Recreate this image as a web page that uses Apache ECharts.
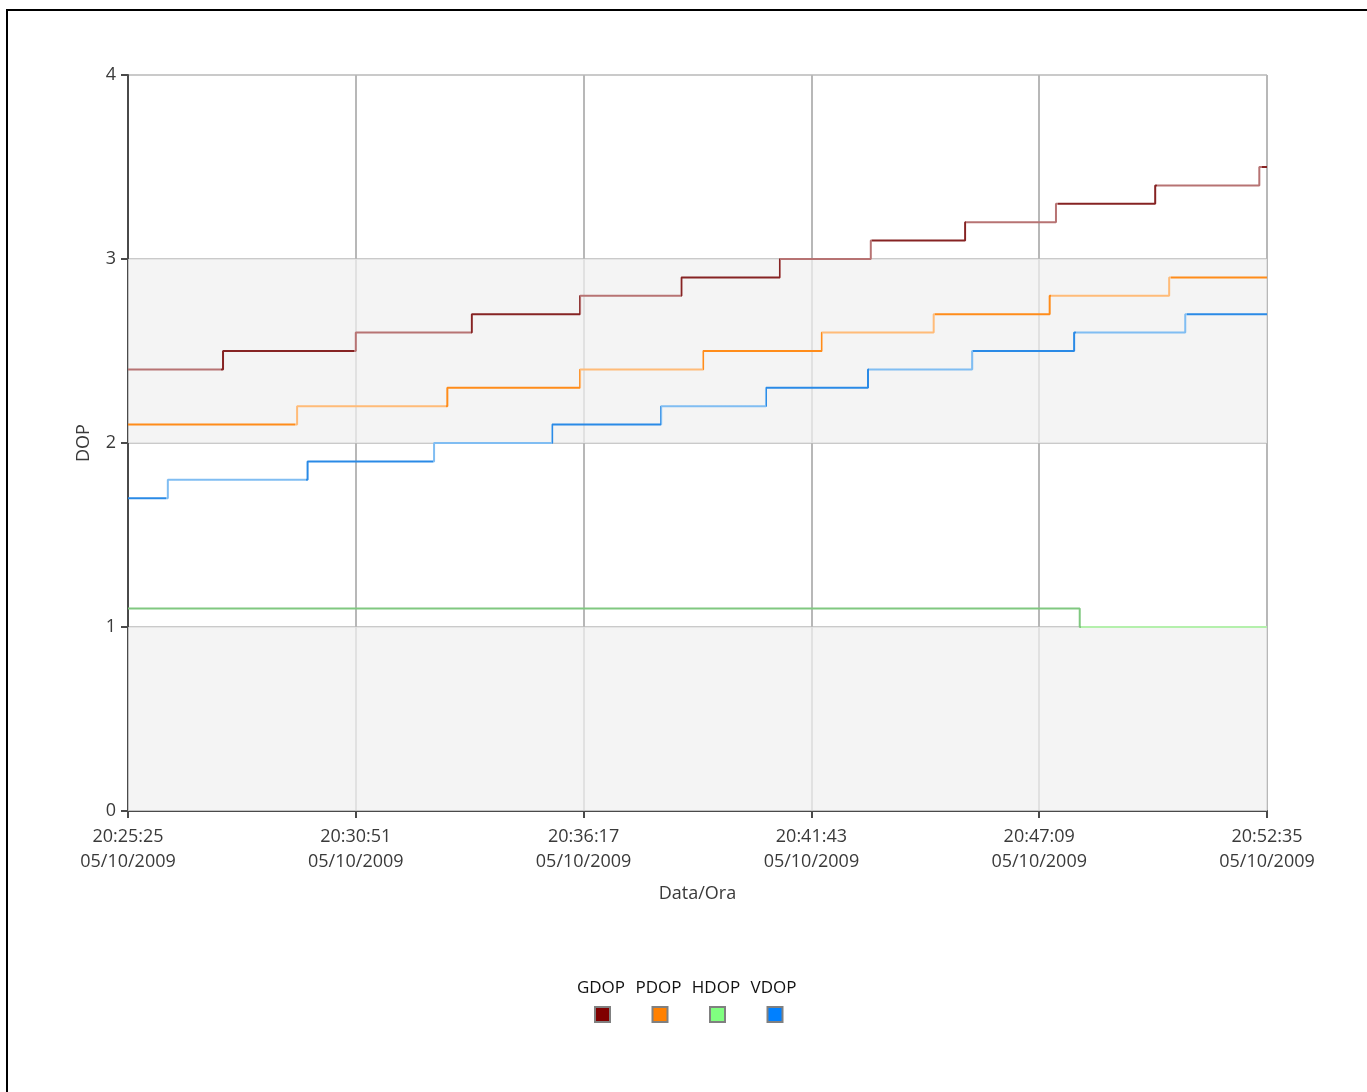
<!DOCTYPE html>
<html>
<head>
<meta charset="utf-8">
<script src="https://cdn.jsdelivr.net/npm/echarts@6/dist/echarts.min.js"></script>
<style>
    html, body { margin: 0; padding: 0; background: #fff; }
    #chart { width: 1367px; height: 1092px; }
</style>
</head>
<body>
<div id="chart"></div>
<script>
// x values are seconds elapsed since 20:25:25
const xTickLabels = ['20:25:25', '20:30:51', '20:36:17', '20:41:43', '20:47:09', '20:52:35']
const dateLabel = '05/10/2009'
const xEnd = 1630
const tickStep = 326

const seriesNames = ['GDOP', 'PDOP', 'HDOP', 'VDOP']

// time (s) at which each level starts, and the level
const gdopTimes = [0, 136, 326, 492, 647, 792, 933, 1063, 1198, 1328, 1470, 1619]
const gdopValues = [2.4, 2.5, 2.6, 2.7, 2.8, 2.9, 3.0, 3.1, 3.2, 3.3, 3.4, 3.5]

const pdopTimes = [0, 242, 457, 647, 823, 993, 1153, 1319, 1490]
const pdopValues = [2.1, 2.2, 2.3, 2.4, 2.5, 2.6, 2.7, 2.8, 2.9]

const hdopTimes = [0, 1362]
const hdopValues = [1.1, 1.0]

const vdopTimes = [0, 57, 257, 438, 607, 763, 913, 1059, 1208, 1354, 1513]
const vdopValues = [1.7, 1.8, 1.9, 2.0, 2.1, 2.2, 2.3, 2.4, 2.5, 2.6, 2.7]

const fontFamily = '"Open Sans", "Noto Sans", sans-serif'
const textColor = '#3a3a3a'

function stepData(times, values) {
    let d = times.map((t, i) => [t, values[i]])
    d.push([xEnd, values[values.length - 1]])
    return d
}

// alternating dark / light segments like the original renderer
function segGradient(times, colA, colB) {
    let stops = []
    times.forEach((t, i) => {
        let next = i < times.length - 1 ? times[i + 1] : xEnd
        let c = i % 2 === 0 ? colA : colB
        stops.push({ offset: t / xEnd, color: c })
        stops.push({ offset: next / xEnd, color: c })
    })
    return new echarts.graphic.LinearGradient(0, 0, 1, 0, stops)
}

function makeSeries(name, times, values, legendColor, colA, colB, extra) {
    return Object.assign({
        name: name,
        type: 'line',
        step: 'end',
        showSymbol: false,
        symbol: 'none',
        data: stepData(times, values),
        itemStyle: { color: legendColor },
        lineStyle: { width: 2, color: segGradient(times, colA, colB) },
        emphasis: { disabled: true }
    }, extra || {})
}

let chart = echarts.init(document.getElementById('chart'))

let legends = seriesNames.map((n, i) => ({
    data: [n],
    left: 594 + i * 57.5,
    top: 1006,
    padding: 0,
    icon: 'rect',
    itemWidth: 15,
    itemHeight: 15,
    itemStyle: { borderColor: '#808080', borderWidth: 2 },
    formatter: () => ''
}))

let graphics = [{
    type: 'polyline',
    shape: { points: [[7, 1092], [7, 10], [1367, 10]] },
    style: { stroke: '#000', lineWidth: 2, fill: null },
    silent: true
}]
seriesNames.forEach((n, i) => {
    graphics.push({
        type: 'text',
        x: 601 + i * 57.5,
        y: 988,
        style: {
            text: n,
            fill: '#111',
            font: '17px ' + fontFamily,
            textAlign: 'center',
            textVerticalAlign: 'middle'
        }
    })
})

let option = {
    animation: false,
    grid: {
        left: 128,
        right: 100,
        top: 75,
        bottom: 281
    },
    legend: legends,
    graphic: graphics,
    xAxis: {
        type: 'value',
        min: 0,
        max: xEnd,
        interval: tickStep,
        name: 'Data/Ora',
        nameLocation: 'middle',
        nameGap: 74,
        nameTextStyle: { color: textColor, fontSize: 18, fontFamily: fontFamily },
        axisLine: { lineStyle: { color: '#4a4a4a', width: 2 } },
        axisTick: { show: true, length: 7, lineStyle: { color: '#4a4a4a', width: 2 } },
        axisLabel: {
            color: textColor,
            fontSize: 18,
            fontFamily: fontFamily,
            lineHeight: 25,
            margin: 13,
            formatter: v => xTickLabels[Math.round(v / tickStep)] + '\n' + dateLabel
        },
        splitLine: { show: true, lineStyle: { color: '#b8b8b8', width: 2 } }
    },
    yAxis: {
        type: 'value',
        min: 0,
        max: 4,
        interval: 1,
        name: 'DOP',
        nameLocation: 'middle',
        nameGap: 35,
        nameTextStyle: { color: textColor, fontSize: 18, fontFamily: fontFamily },
        axisLine: { show: true, lineStyle: { color: '#4a4a4a', width: 2 } },
        axisTick: { show: true, length: 7, lineStyle: { color: '#4a4a4a', width: 2 } },
        axisLabel: { color: textColor, fontSize: 18, fontFamily: fontFamily, margin: 12 },
        splitLine: { show: true, lineStyle: { color: '#b8b8b8', width: 1.5 } }
    },
    series: [
        makeSeries('GDOP', gdopTimes, gdopValues, '#800000', '#b77373', '#862323', {
            markArea: {
                silent: true,
                itemStyle: { color: 'rgba(240,240,240,0.73)' },
                data: [
                    [{ yAxis: 0 }, { yAxis: 1 }],
                    [{ yAxis: 2 }, { yAxis: 3 }]
                ]
            }
        }),
        makeSeries('PDOP', pdopTimes, pdopValues, '#ff8000', '#ff8c1a', '#ffbb78'),
        makeSeries('HDOP', hdopTimes, hdopValues, '#80ff80', '#80c880', '#b4f0ac'),
        makeSeries('VDOP', vdopTimes, vdopValues, '#0080ff', '#2a8ae6', '#80bdf2')
    ]
}
chart.setOption(option)
window.addEventListener('resize', function() {
    chart.resize()
})
</script>
</body>
</html>
